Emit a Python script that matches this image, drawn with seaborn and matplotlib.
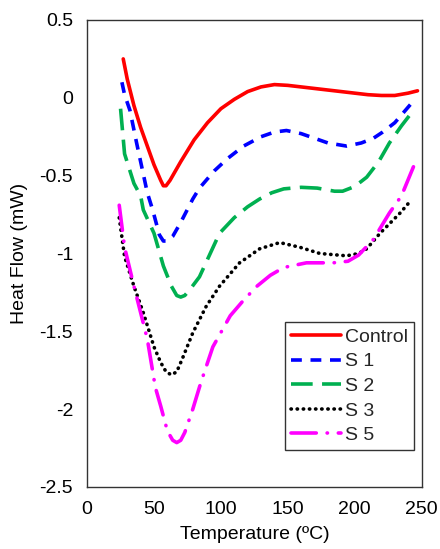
import numpy as np
import pandas as pd
import matplotlib
matplotlib.use("Agg")
import matplotlib.pyplot as plt
import seaborn as sns

sns.set_theme(style="white")
plt.rcParams['font.family'] = ['Liberation Sans', 'DejaVu Sans']

# Data
ctrl_T = [27, 30, 35, 40, 45, 50, 55, 57, 59, 62, 66, 70, 80, 90, 100, 110, 120, 130, 140, 150, 160, 170, 180, 190, 200, 210, 220, 230, 240, 247]
ctrl_H = [0.25, 0.12, -0.05, -0.19, -0.31, -0.43, -0.53, -0.565, -0.565, -0.53, -0.47, -0.41, -0.27, -0.16, -0.07, -0.01, 0.04, 0.07, 0.085, 0.08, 0.07, 0.06, 0.05, 0.04, 0.03, 0.02, 0.015, 0.015, 0.03, 0.045]

s1_T = [26, 28, 32, 37, 45, 49, 54, 57, 60, 64, 70, 79, 84, 95, 105, 117, 130, 140, 149, 160, 170, 180, 194, 205, 214, 221, 230, 238, 245]
s1_H = [0.1, 0.02, -0.08, -0.29, -0.61, -0.72, -0.88, -0.92, -0.92, -0.89, -0.8, -0.65, -0.58, -0.47, -0.39, -0.31, -0.25, -0.22, -0.21, -0.23, -0.26, -0.29, -0.31, -0.29, -0.26, -0.22, -0.16, -0.08, -0.01]

s2_T = [25, 28, 35, 40, 42, 50, 57, 63, 67, 70, 73, 77, 84, 99, 110, 120, 129, 138, 147, 160, 172, 185, 191, 200, 209, 218, 226, 235, 244]
s2_H = [-0.07, -0.36, -0.55, -0.63, -0.72, -0.87, -1.08, -1.21, -1.27, -1.28, -1.27, -1.23, -1.15, -0.87, -0.77, -0.7, -0.65, -0.61, -0.585, -0.575, -0.58, -0.6, -0.6, -0.57, -0.51, -0.41, -0.29, -0.18, -0.08]

s3_T = [24, 28, 35, 42, 50, 55, 59, 63, 67, 71, 79, 89, 99, 114, 129, 144, 159, 174, 194, 203, 209, 219, 234, 241]
s3_H = [-0.77, -1.02, -1.21, -1.38, -1.6, -1.7, -1.76, -1.78, -1.76, -1.68, -1.51, -1.34, -1.21, -1.06, -0.97, -0.93, -0.96, -1.0, -1.015, -1.0, -0.97, -0.87, -0.74, -0.67]

s5_T = [24, 28, 35, 45, 51, 55, 60, 64, 67, 70, 73, 79, 85, 94, 107, 117, 127, 137, 147, 164, 184, 195, 203, 214, 226, 235, 247]
s5_H = [-0.69, -0.96, -1.21, -1.55, -1.86, -1.98, -2.14, -2.2, -2.215, -2.2, -2.15, -2.0, -1.83, -1.6, -1.4, -1.3, -1.21, -1.14, -1.09, -1.06, -1.06, -1.05, -1.01, -0.91, -0.74, -0.63, -0.38]

labels = ["Control", "S 1", "S 2", "S 3", "S 5"]
colors = ["#FF0000", "#0000FF", "#00B050", "#000000", "#FF00FF"]
series = [(ctrl_T, ctrl_H), (s1_T, s1_H), (s2_T, s2_H), (s3_T, s3_H), (s5_T, s5_H)]
styles = ["-", (0, (3.0, 2.4)), (0, (6, 2.6)), (0, (0.1, 1.6)), (0, (7, 3, 0.1, 3))]
caps = ["round", "butt", "butt", "round", "round"]

fs = 14

fig = plt.figure(figsize=(4.4, 5.49), dpi=100)
ax = fig.add_axes([0.198, 0.113, 0.76, 0.8506])

for (T, H), lab, col, ls, cap in zip(series, labels, colors, styles, caps):
    df = pd.DataFrame({"T": T, "H": H})
    sns.lineplot(data=df, x="T", y="H", ax=ax, color=col, linewidth=2.6,
                 linestyle=ls, label=lab, sort=False, dash_capstyle=cap,
                 solid_joinstyle="round")

ax.set_xlim(0, 250)
ax.set_ylim(-2.5, 0.5)
ax.set_xticks([0, 50, 100, 150, 200, 250])
ax.set_yticks([-2.5, -2, -1.5, -1, -0.5, 0, 0.5])
ax.set_yticklabels(["-2.5", "-2", "-1.5", "-1", "-0.5", "0", "0.5"])
ax.tick_params(axis="both", labelsize=fs, length=0, pad=10, colors="black")
ax.set_xlabel("Temperature (ºC)", fontsize=fs, color="black", labelpad=6)
ax.set_ylabel("Heat Flow (mW)", fontsize=fs, color="black", labelpad=8)
for sp in ax.spines.values():
    sp.set_color("#333333")
    sp.set_linewidth(1.0)

leg = ax.legend(loc="lower right", bbox_to_anchor=(0.978, 0.079), fontsize=fs,
                frameon=True, fancybox=False, edgecolor="#333333", framealpha=1,
                handlelength=2.6, handletextpad=0.2, borderpad=0.3, labelspacing=0.36,
                borderaxespad=0)
leg.get_frame().set_linewidth(1.0)

fig.savefig("out.png", dpi=100)
